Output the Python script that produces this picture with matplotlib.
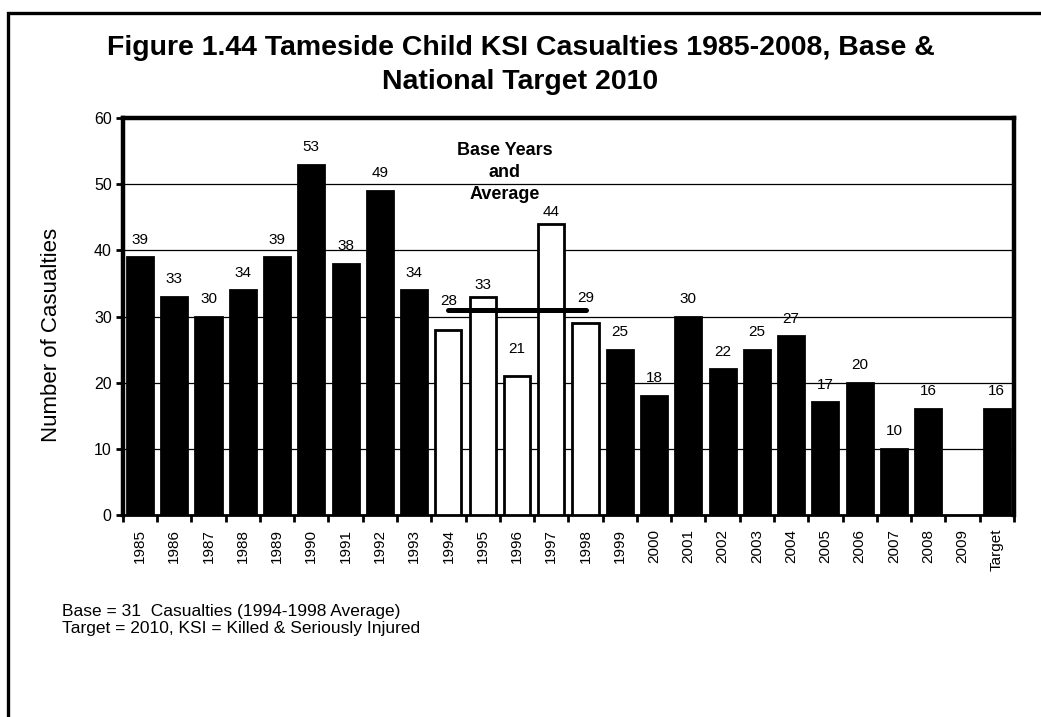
import matplotlib
matplotlib.use("Agg")
import matplotlib.pyplot as plt
from matplotlib.patches import Rectangle
import numpy as np

plt.rcParams['font.family'] = ['Liberation Sans', 'DejaVu Sans']

categories = ['1985', '1986', '1987', '1988', '1989', '1990', '1991', '1992', '1993',
              '1994', '1995', '1996', '1997', '1998', '1999', '2000', '2001', '2002',
              '2003', '2004', '2005', '2006', '2007', '2008', '2009', 'Target']
values = [39, 33, 30, 34, 39, 53, 38, 49, 34, 28, 33, 21, 44, 29, 25, 18, 30, 22,
          25, 27, 17, 20, 10, 16, 0, 16]
base_years = ['1994', '1995', '1996', '1997', '1998']
base_average = 31
yticks = [0, 10, 20, 30, 40, 50, 60]

fig = plt.figure(figsize=(10.41, 7.17), dpi=100)
ax = fig.add_axes([0.118, 0.282, 0.856, 0.553])

x = np.arange(len(categories))
colors = ['white' if c in base_years else 'black' for c in categories]
edges = ['black' if v > 0 else 'none' for v in values]
ax.bar(x, values, width=0.76, color=colors, edgecolor=edges, linewidth=2, zorder=3)

# manual label nudges (in data units) as in the original chart
label_nudge = {'1994': 1.7, '1995': -0.9, '1996': 1.5, '1997': -0.9, '1998': 1.1}
for xi, v, c in zip(x, values, categories):
    if v > 0:
        ax.text(xi, v + 1.6 + label_nudge.get(c, 0), str(v), ha='center', va='bottom',
                fontsize=11, zorder=5)

bx = [categories.index(b) for b in base_years]
ax.plot([bx[0], bx[-1]], [base_average, base_average], color='black', lw=3.6,
        solid_capstyle='round', zorder=4)

ax.text(10.65, 51.8, 'Base Years\nand\nAverage', ha='center', va='center',
        fontsize=13, fontweight='bold', linespacing=1.35, zorder=6)

ax.set_xlim(-0.5, len(categories) - 0.5)
ax.set_ylim(0, 60)
ax.set_yticks(yticks)
ax.set_yticklabels([str(t) for t in yticks], fontsize=11.5)
ax.yaxis.grid(True, color='black', lw=0.9, zorder=0)
ax.set_axisbelow(True)

ax.set_xticks(x)
ax.set_xticklabels(categories, rotation=90, fontsize=11)
ax.set_xticks(np.arange(-0.5, len(categories), 1.0), minor=True)
ax.tick_params(axis='x', which='major', length=0, pad=10)
ax.tick_params(axis='x', which='minor', length=5, width=2, direction='out')
ax.tick_params(axis='y', length=5, width=2, direction='out', pad=3)

for s in ['left', 'top', 'right']:
    ax.spines[s].set_linewidth(3.2)
ax.spines['bottom'].set_linewidth(2)

ax.set_ylabel('Number of Casualties', fontsize=16)
ax.yaxis.set_label_coords(-0.068, 0.453)

fig.text(0.5, 1 - 65 / 717, 'Figure 1.44 Tameside Child KSI Casualties 1985-2008, Base &\nNational Target 2010',
         ha='center', va='center', fontsize=20.5, fontweight='bold', linespacing=1.38)

fig.text(62 / 1041, 1 - 620 / 717, 'Base = 31  Casualties (1994-1998 Average)\nTarget = 2010, KSI = Killed & Seriously Injured',
         ha='left', va='center', fontsize=12.5, linespacing=1.2)

frame = Rectangle((8 / 1041, -0.1), 1.2, 1 - 13 / 717 + 0.1, transform=fig.transFigure,
                  fill=False, edgecolor='black', lw=2.4, clip_on=False)
fig.patches.append(frame)

fig.savefig('out.png', dpi=100)
